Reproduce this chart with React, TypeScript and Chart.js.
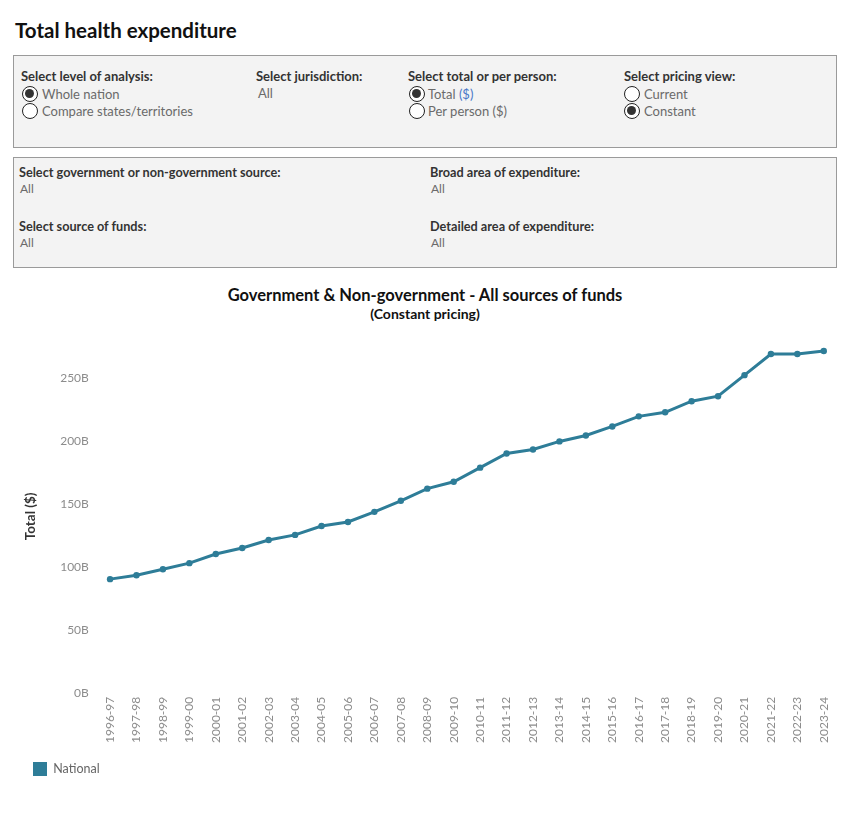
import React, { useEffect, useRef } from "react";
import { Chart, registerables } from "chart.js";

Chart.register(...registerables);

// ---- Data ----
const categories = [
  "1996-97", "1997-98", "1998-99", "1999-00", "2000-01", "2001-02", "2002-03",
  "2003-04", "2004-05", "2005-06", "2006-07", "2007-08", "2008-09", "2009-10",
  "2010-11", "2011-12", "2012-13", "2013-14", "2014-15", "2015-16", "2016-17",
  "2017-18", "2018-19", "2019-20", "2020-21", "2021-22", "2022-23", "2023-24",
];
// Total health expenditure, national, constant pricing (billions of $)
const nationalTotal = [
  90.2, 93.3, 98.1, 102.9, 110.1, 114.9, 121.3,
  125.3, 132.4, 135.6, 143.6, 152.4, 162.0, 167.5,
  178.7, 189.9, 193.1, 199.5, 204.2, 211.4, 219.4,
  222.6, 231.4, 235.4, 252.1, 268.9, 268.9, 271.3,
];
const seriesName = "National";
const yAxisMax = 280;
const yTickStep = 50;
const yTickSuffix = "B";

const chartTitle = "Government & Non-government - All sources of funds";
const chartSubtitle = "(Constant pricing)";
const yAxisTitle = "Total ($)";

const LINE_COLOR = "#2e7d98";
const FONT = "Lato, 'Noto Sans', sans-serif";

type TextProps = {
  x: number;
  y: number;
  text: React.ReactNode;
  size?: number;
  weight?: number;
  color?: string;
  center?: boolean;
};

function Txt({ x, y, text, size = 13, weight = 400, color = "#666", center = false }: TextProps) {
  return (
    <div
      style={{
        position: "absolute",
        left: center ? 0 : x,
        width: center ? 850 : undefined,
        textAlign: center ? "center" : "left",
        top: y - 10,
        height: 20,
        lineHeight: "20px",
        fontSize: size,
        fontWeight: weight,
        color,
        whiteSpace: "nowrap",
        fontFamily: FONT,
      }}
    >
      {text}
    </div>
  );
}

function Radio({ cx, cy, checked }: { cx: number; cy: number; checked: boolean }) {
  const d = 16;
  return (
    <div
      style={{
        position: "absolute",
        left: cx - d / 2,
        top: cy - d / 2,
        width: d,
        height: d,
        boxSizing: "border-box",
        borderRadius: "50%",
        border: "1.3px solid #222",
        background: "#fff",
      }}
    >
      {checked && (
        <div
          style={{
            position: "absolute",
            left: 2.2,
            top: 2.2,
            width: 9,
            height: 9,
            borderRadius: "50%",
            background: "#333",
          }}
        />
      )}
    </div>
  );
}

function LineChart() {
  const ref = useRef<HTMLCanvasElement | null>(null);
  useEffect(() => {
    if (!ref.current) return;
    Chart.defaults.font.family = FONT;
    const chart = new Chart(ref.current, {
      type: "line",
      data: {
        labels: categories,
        datasets: [
          {
            label: seriesName,
            data: nationalTotal,
            borderColor: LINE_COLOR,
            backgroundColor: LINE_COLOR,
            borderWidth: 3,
            pointRadius: 3.2,
            pointBackgroundColor: LINE_COLOR,
            pointBorderColor: LINE_COLOR,
            pointBorderWidth: 0,
            tension: 0,
          },
        ],
      },
      options: {
        responsive: false,
        animation: false,
        layout: { padding: { left: 23, right: 13, top: 60, bottom: 14 } },
        plugins: {
          legend: {
            position: "bottom",
            align: "start",
            labels: {
              boxWidth: 14,
              boxHeight: 14,
              color: "#666",
              font: { size: 12.5, family: FONT },
              padding: 10,
              generateLabels: (c: any) =>
                Chart.defaults.plugins.legend.labels
                  .generateLabels(c)
                  .map((l: any) => ({ ...l, lineWidth: 0 })),
            },
          },
          tooltip: { enabled: false },
        },
        scales: {
          x: {
            type: "category",
            offset: true,
            grid: { display: false, drawTicks: false },
            border: { display: false },
            afterFit: (s: any) => {
              s.height += 5;
            },
            ticks: {
              autoSkip: false,
              minRotation: 90,
              maxRotation: 90,
              color: "#8c8c8c",
              font: { size: 12, family: FONT },
              padding: 4,
            },
          },
          y: {
            min: 0,
            max: yAxisMax,
            grid: { display: false, drawTicks: false },
            border: { display: false },
            ticks: {
              stepSize: yTickStep,
              includeBounds: false,
              color: "#8c8c8c",
              font: { size: 12, family: FONT },
              padding: 8,
              callback: (v: any) => `${v}${yTickSuffix}`,
            },
            title: {
              display: true,
              text: yAxisTitle,
              color: "#333",
              font: { size: 13.5, weight: "bold", family: FONT },
              padding: { top: 0, bottom: 13 },
            },
          },
        },
      },
    });
    return () => chart.destroy();
  }, []);
  return (
    <canvas
      ref={ref}
      width={850}
      height={520}
      style={{ position: "absolute", left: 0, top: 280, width: 850, height: 520 }}
    />
  );
}

export default function App() {
  const label = "#333";
  const item = "#6a6a6a";
  return (
    <div
      style={{
        position: "absolute",
        left: 0,
        top: 0,
        width: 850,
        height: 820,
        background: "#fff",
        overflow: "hidden",
        fontFamily: FONT,
      }}
    >
      <Txt x={15} y={30} text="Total health expenditure" size={20.5} weight={700} color="#111" />

      {/* Panel 1 */}
      <div
        style={{
          position: "absolute",
          left: 13,
          top: 55,
          width: 824,
          height: 93,
          boxSizing: "border-box",
          border: "1px solid #9a9a9a",
          background: "#f3f3f3",
        }}
      />
      <Txt x={21} y={76} text="Select level of analysis:" weight={700} color={label} />
      <Radio cx={30} cy={94} checked={true} />
      <Txt x={42} y={94} text="Whole nation" color={item} />
      <Radio cx={30} cy={111} checked={false} />
      <Txt x={42} y={111} text="Compare states/territories" color={item} />

      <Txt x={256} y={76} text="Select jurisdiction:" weight={700} color={label} />
      <Txt x={258} y={93} text="All" color={item} />

      <Txt x={408} y={76} text="Select total or per person:" weight={700} color={label} />
      <Radio cx={417} cy={94} checked={true} />
      <Txt
        x={428}
        y={94}
        text={
          <span>
            Total <span style={{ color: "#4a78c8" }}>($)</span>
          </span>
        }
        color={item}
      />
      <Radio cx={417} cy={111} checked={false} />
      <Txt x={428} y={111} text="Per person ($)" color={item} />

      <Txt x={624} y={76} text="Select pricing view:" weight={700} color={label} />
      <Radio cx={632} cy={94} checked={false} />
      <Txt x={644} y={94} text="Current" color={item} />
      <Radio cx={632} cy={111} checked={true} />
      <Txt x={644} y={111} text="Constant" color={item} />

      {/* Panel 2 */}
      <div
        style={{
          position: "absolute",
          left: 13,
          top: 157,
          width: 824,
          height: 111,
          boxSizing: "border-box",
          border: "1px solid #9a9a9a",
          background: "#f3f3f3",
        }}
      />
      <Txt x={19} y={172} text="Select government or non-government source:" size={12.7} weight={700} color={label} />
      <Txt x={20} y={189} text="All" size={12} color={item} />
      <Txt x={19} y={226} text="Select source of funds:" size={12.7} weight={700} color={label} />
      <Txt x={20} y={243} text="All" size={12} color={item} />
      <Txt x={430} y={172} text="Broad area of expenditure:" size={12.7} weight={700} color={label} />
      <Txt x={431} y={189} text="All" size={12} color={item} />
      <Txt x={430} y={226} text="Detailed area of expenditure:" size={12.7} weight={700} color={label} />
      <Txt x={431} y={243} text="All" size={12} color={item} />

      <Txt x={0} y={295} center text={chartTitle} size={16.5} weight={700} color="#111" />
      <Txt x={0} y={314} center text={chartSubtitle} size={14} weight={700} color="#111" />

      <LineChart />
    </div>
  );
}
